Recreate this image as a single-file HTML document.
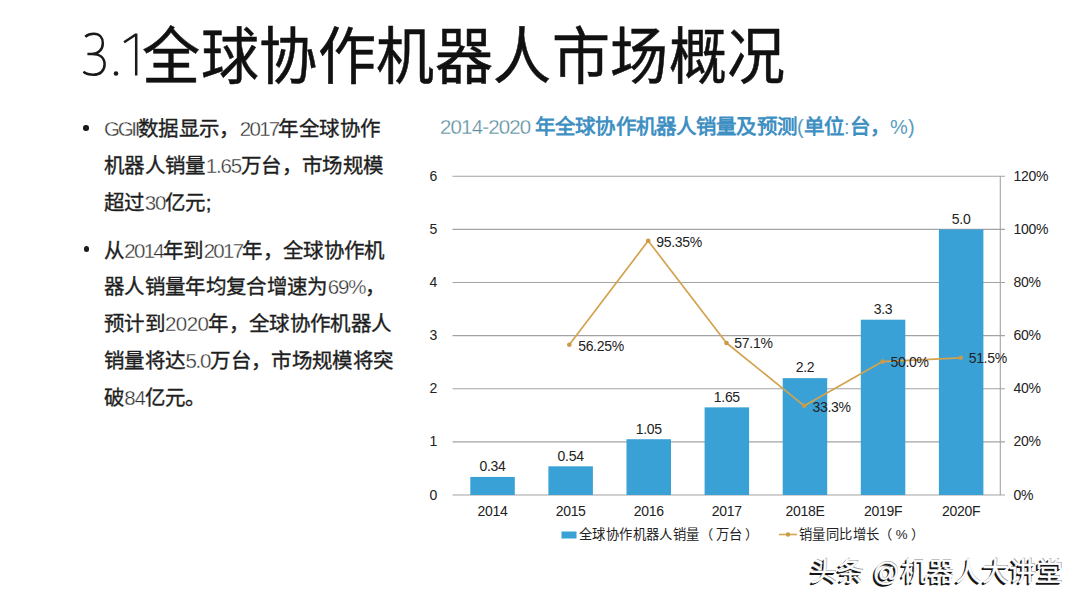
<!DOCTYPE html>
<html lang="zh-CN"><head><meta charset="utf-8">
<style>
html,body{margin:0;padding:0;}
body{width:1080px;height:603px;background:#fff;position:relative;overflow:hidden;font-family:"Liberation Sans",sans-serif;color:#111;}
.abs{position:absolute;white-space:nowrap;}
#title{left:142px;top:20px;letter-spacing:0.55px;font-size:58px;-webkit-text-stroke:0.5px #111;line-height:70px;color:#111;transform:scaleY(1.07);transform-origin:0 0;}
.bl{font-size:20.5px;line-height:36px;color:#1e1e1e;letter-spacing:0.35px;-webkit-text-stroke:0.35px #1e1e1e;}
.bl .d{color:#2e2e2e;font-weight:400;letter-spacing:-1.2px;-webkit-text-stroke:0.35px #fff;}
.bl .g{letter-spacing:-2.3px;}
.bl .y{letter-spacing:-1.75px;}
.dot{position:absolute;width:5.5px;height:5.5px;border-radius:50%;background:#1a1a1a;}
#ct1{left:440px;top:112.5px;font-size:20.5px;line-height:28px;color:#5a8e9f;letter-spacing:-0.85px;-webkit-text-stroke:0.3px #fff;}
#ct2{left:535px;top:112px;font-size:20.5px;line-height:30px;color:#3f90c2;font-weight:bold;letter-spacing:0.15px;}
#ct2 .l{font-weight:normal;color:#5a9cc0;font-size:20px;}
.ax{font-size:14px;line-height:16px;color:#222;letter-spacing:-0.3px;}
.lab{font-size:14px;line-height:16px;color:#222;letter-spacing:-0.3px;}
.c{width:80px;text-align:center;}
.leg{font-size:13.3px;line-height:18px;color:#222;letter-spacing:0.4px;text-spacing-trim:space-all;}
#wm{left:810px;top:555px;font-size:26.5px;line-height:34px;color:#fff;letter-spacing:1.1px;-webkit-text-stroke:0.4px #fff;
 text-shadow:-1.8px 1.5px 0 #151515,-1px 1px 0 #222,0.6px -0.6px 0.6px rgba(0,0,0,.35);}
</style></head>
<body>
<svg class="abs" style="left:0;top:0" width="150" height="100" viewBox="0 0 150 100"><g fill="none" stroke="#1a1a1a" stroke-width="2.5" stroke-linecap="butt">
<path d="M85.2,36.8 C87.5,34.8 90.5,33.8 93.8,33.8 C99.5,33.8 102.8,37.6 102.8,43.2 C102.8,49.6 98.5,53.9 92,53.9 L87.4,53.9 M92,53.9 C100,53.9 104.6,58 104.6,64.3 C104.6,70.8 100,74.8 93.5,74.8 C89.5,74.8 86,73.8 83.4,71.8"/>
<path d="M136.2,33.6 L136.2,75.6 M136.2,34.2 L124.1,42.2"/>
</g><circle cx="116" cy="73.5" r="2.3" fill="#1a1a1a"/></svg>
<div id="title" class="abs">全球协作机器人市场概况</div>

<div class="dot" style="left:83.2px;top:125px"></div>
<div class="abs bl" style="left:104px;top:111px"><span class="d g">GGII</span>数据显示，<span class="d y">2017</span>年全球协作</div>
<div class="abs bl" style="left:104px;top:148px">机器人销量<span class="d">1.65</span>万台，市场规模</div>
<div class="abs bl" style="left:104px;top:184.5px">超过<span class="d">30</span>亿元;</div>

<div class="dot" style="left:83.8px;top:246px"></div>
<div class="abs bl" style="left:104px;top:233px">从<span class="d y">2014</span>年到<span class="d y">2017</span>年，全球协作机</div>
<div class="abs bl" style="left:104px;top:269px">器人销量年均复合增速为<span class="d">69%</span>，</div>
<div class="abs bl" style="left:104px;top:305.5px">预计到<span class="d" style="letter-spacing:-0.6px">2020</span>年，全球协作机器人</div>
<div class="abs bl" style="left:104px;top:343px">销量将达<span class="d">5.0</span>万台，市场规模将突</div>
<div class="abs bl" style="left:104px;top:379.5px">破<span class="d">84</span>亿元。</div>

<div id="ct1" class="abs">2014-2020</div>
<div id="ct2" class="abs">年全球协作机器人销量及预测<span class="l">(</span>单位<span class="l">:</span>台，<span class="l">%)</span></div>

<svg class="abs" style="left:0;top:0" width="1080" height="603" viewBox="0 0 1080 603">
 <g stroke="#a3a3a3" stroke-width="1.1">
  <line x1="452.5" y1="495.00" x2="1005" y2="495.00"/>
  <line x1="452.5" y1="441.88" x2="1005" y2="441.88"/>
  <line x1="452.5" y1="388.76" x2="1005" y2="388.76"/>
  <line x1="452.5" y1="335.64" x2="1005" y2="335.64"/>
  <line x1="452.5" y1="282.52" x2="1005" y2="282.52"/>
  <line x1="452.5" y1="229.40" x2="1005" y2="229.40"/>
  <line x1="452.5" y1="176.28" x2="1005" y2="176.28"/>
  <line x1="1000.3" y1="176" x2="1000.3" y2="495"/>
 </g>
 <g fill="#3aa1d6">
  <rect x="470.30" y="476.94" width="44.5" height="18.06"/>
  <rect x="548.40" y="466.32" width="44.5" height="28.68"/>
  <rect x="626.50" y="439.22" width="44.5" height="55.78"/>
  <rect x="704.60" y="407.35" width="44.5" height="87.65"/>
  <rect x="782.70" y="378.14" width="44.5" height="116.86"/>
  <rect x="860.80" y="319.70" width="44.5" height="175.30"/>
  <rect x="938.90" y="229.40" width="44.5" height="265.60"/>
 </g>
 <polyline fill="none" stroke="#d4a24e" stroke-width="1.7" stroke-linejoin="round" points="569.3,344.8 648.2,240.8 726.5,343.0 804.3,405.8 882.6,361.6 960.7,357.8"/>
 <g fill="#c99a48">
  <circle cx="569.3" cy="344.8" r="2.3"/>
  <circle cx="648.2" cy="240.8" r="2.3"/>
  <circle cx="726.5" cy="343.0" r="2.3"/>
  <circle cx="804.3" cy="405.8" r="2.3"/>
  <circle cx="882.6" cy="361.6" r="2.3"/>
  <circle cx="960.7" cy="357.8" r="2.3"/>
 </g>
 <rect x="561.5" y="531.5" width="15" height="7" fill="#3aa1d6"/>
 <line x1="779" y1="534.5" x2="797" y2="534.5" stroke="#d9a54f" stroke-width="1.6"/>
 <circle cx="788" cy="534.5" r="2.2" fill="#c99a48"/>
</svg>

<div class="abs ax" style="left:429.5px;top:486.5px">0</div>
<div class="abs ax" style="left:429.5px;top:433.4px">1</div>
<div class="abs ax" style="left:429.5px;top:380.3px">2</div>
<div class="abs ax" style="left:429.5px;top:327.1px">3</div>
<div class="abs ax" style="left:429.5px;top:274.0px">4</div>
<div class="abs ax" style="left:429.5px;top:220.9px">5</div>
<div class="abs ax" style="left:429.5px;top:167.8px">6</div>
<div class="abs ax" style="left:1013.5px;top:486.5px">0%</div>
<div class="abs ax" style="left:1013.5px;top:433.4px">20%</div>
<div class="abs ax" style="left:1013.5px;top:380.3px">40%</div>
<div class="abs ax" style="left:1013.5px;top:327.1px">60%</div>
<div class="abs ax" style="left:1013.5px;top:274.0px">80%</div>
<div class="abs ax" style="left:1013.5px;top:220.9px">100%</div>
<div class="abs ax" style="left:1013.5px;top:167.8px">120%</div>
<div class="abs lab c" style="left:452.55px;top:458.24px">0.34</div>
<div class="abs lab c" style="left:530.65px;top:447.62px">0.54</div>
<div class="abs lab c" style="left:608.75px;top:420.52px">1.05</div>
<div class="abs lab c" style="left:686.85px;top:388.65px">1.65</div>
<div class="abs lab c" style="left:764.95px;top:359.44px">2.2</div>
<div class="abs lab c" style="left:843.05px;top:301.00px">3.3</div>
<div class="abs lab c" style="left:921.15px;top:210.70px">5.0</div>
<div class="abs lab" style="left:578.15px;top:337.60px">56.25%</div>
<div class="abs lab" style="left:656.25px;top:233.75px">95.35%</div>
<div class="abs lab" style="left:734.35px;top:335.34px">57.1%</div>
<div class="abs lab" style="left:812.45px;top:398.56px">33.3%</div>
<div class="abs lab" style="left:890.55px;top:354.20px">50.0%</div>
<div class="abs lab" style="left:968.65px;top:350.22px">51.5%</div>
<div class="abs lab c" style="left:452.55px;top:503.00px">2014</div>
<div class="abs lab c" style="left:530.65px;top:503.00px">2015</div>
<div class="abs lab c" style="left:608.75px;top:503.00px">2016</div>
<div class="abs lab c" style="left:686.85px;top:503.00px">2017</div>
<div class="abs lab c" style="left:764.95px;top:503.00px">2018E</div>
<div class="abs lab c" style="left:843.05px;top:503.00px">2019F</div>
<div class="abs lab c" style="left:921.15px;top:503.00px">2020F</div>

<div class="abs leg" style="left:579px;top:526px">全球协作机器人销量<span style="margin-right:3px">（</span>万台<span style="margin-left:2.5px">）</span></div>
<div class="abs leg" style="left:799px;top:526px">销量同比增长<span style="margin-right:3px">（</span>%<span style="margin-left:2.5px">）</span></div>

<div id="wm" class="abs">头条 @机器人大讲堂</div>
</body></html>
